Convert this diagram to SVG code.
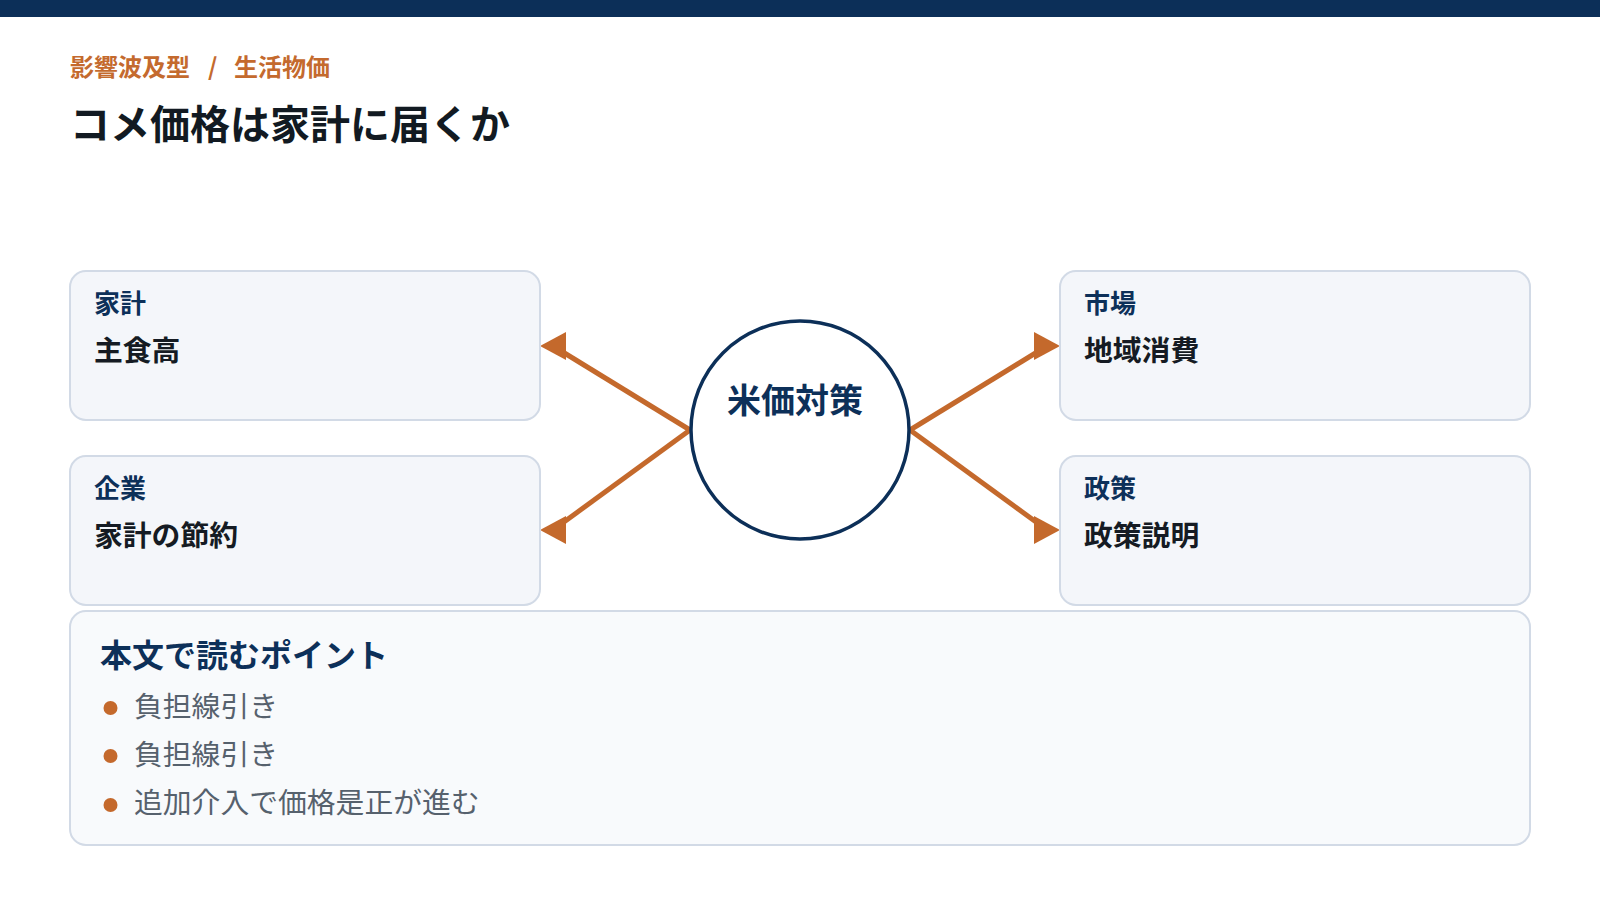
<svg xmlns="http://www.w3.org/2000/svg" width="1600" height="900" viewBox="0 0 1600 900">
  <defs>
    <style>
      .jp { font-family: "Noto Sans CJK JP", "Noto Sans", "Liberation Sans", sans-serif; }
      .card { fill: #f4f6fa; stroke: #d2dae6; stroke-width: 2; }
      .panel { fill: #f8fafc; stroke: #d2dae6; stroke-width: 2; }
      .lbl { font-size: 26px; font-weight: 700; fill: #0d3059; }
      .val { font-size: 28.8px; font-weight: 700; fill: #151b23; }
      .conn { stroke: #c4692c; stroke-width: 5; fill: none; }
      .bul { fill: #c4692c; }
      .btxt { font-size: 28.8px; font-weight: 400; fill: #56616d; }
    </style>
    <marker id="arrL" markerUnits="userSpaceOnUse" viewBox="0 0 26 28" refX="13" refY="14" markerWidth="26" markerHeight="28" orient="180">
      <path d="M0,0 L26,14 L0,28 z" fill="#c4692c"/>
    </marker>
    <marker id="arrR" markerUnits="userSpaceOnUse" viewBox="0 0 26 28" refX="13" refY="14" markerWidth="26" markerHeight="28" orient="0">
      <path d="M0,0 L26,14 L0,28 z" fill="#c4692c"/>
    </marker>
  </defs>

  <rect x="0" y="0" width="1600" height="17" fill="#0c2f58"/>

  <g id="header" class="jp">
    <text x="70" y="76" font-size="24" font-weight="700" fill="#c46a2e"><tspan>影響波及型</tspan><tspan x="208">/</tspan><tspan x="234">生活物価</tspan></text>
    <text x="70" y="139" font-size="40" font-weight="700" fill="#121a22">コメ価格は家計に届くか</text>
  </g>

  <g id="connectors">
    <path class="conn" d="M690,430 L553,346" marker-end="url(#arrL)"/>
    <path class="conn" d="M690,430 L553,530" marker-end="url(#arrL)"/>
    <path class="conn" d="M910,430 L1047,346" marker-end="url(#arrR)"/>
    <path class="conn" d="M910,430 L1047,530" marker-end="url(#arrR)"/>
  </g>

  <g id="node-household" class="jp">
    <rect class="card" x="70" y="271" width="470" height="149" rx="16"/>
    <text class="lbl" x="94" y="313">家計</text>
    <text class="val" x="94" y="361">主食高</text>
  </g>

  <g id="node-company" class="jp">
    <rect class="card" x="70" y="456" width="470" height="149" rx="16"/>
    <text class="lbl" x="94" y="498">企業</text>
    <text class="val" x="94" y="546">家計の節約</text>
  </g>

  <g id="node-market" class="jp">
    <rect class="card" x="1060" y="271" width="470" height="149" rx="16"/>
    <text class="lbl" x="1084" y="313">市場</text>
    <text class="val" x="1084" y="361">地域消費</text>
  </g>

  <g id="node-policy" class="jp">
    <rect class="card" x="1060" y="456" width="470" height="149" rx="16"/>
    <text class="lbl" x="1084" y="498">政策</text>
    <text class="val" x="1084" y="546">政策説明</text>
  </g>

  <g id="node-center" class="jp">
    <circle cx="800" cy="430" r="109" fill="#ffffff" stroke="#0c2f58" stroke-width="3.5"/>
    <text x="795" y="413" font-size="34" font-weight="700" fill="#0d3059" text-anchor="middle">米価対策</text>
  </g>

  <g id="node-points" class="jp">
    <rect class="panel" x="70" y="611" width="1460" height="234" rx="16"/>
    <text x="100" y="667" font-size="32" font-weight="700" fill="#0d3059">本文で読むポイント</text>
    <circle class="bul" cx="110.5" cy="708" r="7"/>
    <text class="btxt" x="134" y="717">負担線引き</text>
    <circle class="bul" cx="110.5" cy="756" r="7"/>
    <text class="btxt" x="134" y="765">負担線引き</text>
    <circle class="bul" cx="110.5" cy="805" r="7"/>
    <text class="btxt" x="134" y="813">追加介入で価格是正が進む</text>
  </g>
</svg>
